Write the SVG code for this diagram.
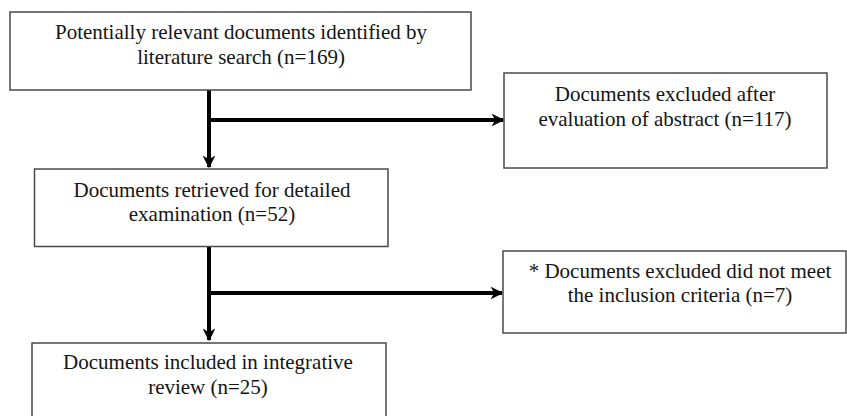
<svg xmlns="http://www.w3.org/2000/svg" width="847" height="416" viewBox="0 0 847 416">
  <defs>
    <style>
      .box { fill: #ffffff; stroke: #4a4a4a; stroke-width: 1.5; }
      .lbl { font-family: "Liberation Serif", "Times New Roman", serif; font-size: 21px; fill: #141414; text-anchor: middle; }
      .flow { fill: none; stroke: #000000; stroke-width: 4; }
    </style>
    <marker id="arrow" viewBox="0 0 10 10" refX="9" refY="5" markerWidth="3.2" markerHeight="3.2" orient="auto" markerUnits="strokeWidth">
      <path d="M0,0 L10,5 L0,10 L3,5 Z" fill="#000000"/>
    </marker>
  </defs>
  <rect width="847" height="416" fill="#ffffff"/>

  <g id="connectors">
    <path class="flow" d="M209,90 V167" marker-end="url(#arrow)"/>
    <path class="flow" d="M209,120 H503" marker-end="url(#arrow)"/>
    <path class="flow" d="M209,247 V340" marker-end="url(#arrow)"/>
    <path class="flow" d="M209,293 H502" marker-end="url(#arrow)"/>
  </g>

  <g id="identified">
    <rect class="box" x="10" y="12" width="461" height="78"/>
    <text class="lbl" x="241" y="39">Potentially relevant documents identified by</text>
    <text class="lbl" x="241" y="64">literature search (n=169)</text>
  </g>

  <g id="excluded-abstract">
    <rect class="box" x="504" y="73" width="323" height="95"/>
    <text class="lbl" x="665" y="101">Documents excluded after</text>
    <text class="lbl" x="665" y="126">evaluation of abstract (n=117)</text>
  </g>

  <g id="retrieved">
    <rect class="box" x="34.5" y="169" width="353.5" height="77.5"/>
    <text class="lbl" x="212" y="197">Documents retrieved for detailed</text>
    <text class="lbl" x="212" y="221">examination (n=52)</text>
  </g>

  <g id="excluded-criteria">
    <rect class="box" x="503" y="251" width="343" height="82"/>
    <text class="lbl" x="680" y="278">* Documents excluded did not meet</text>
    <text class="lbl" x="680" y="302">the inclusion criteria (n=7)</text>
  </g>

  <g id="included">
    <rect class="box" x="32" y="343" width="354" height="80"/>
    <text class="lbl" x="208" y="369">Documents included in integrative</text>
    <text class="lbl" x="208" y="394">review (n=25)</text>
  </g>
</svg>
